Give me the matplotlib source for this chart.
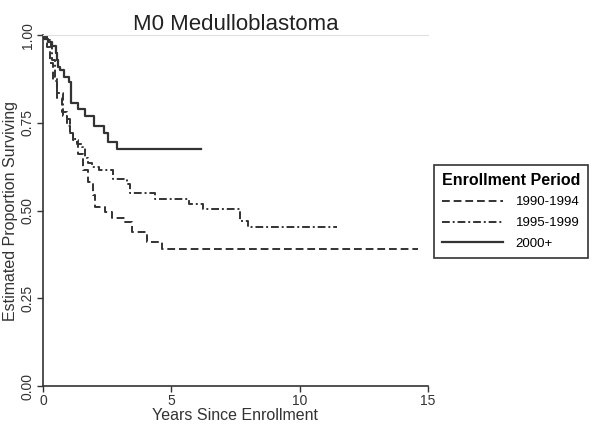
import matplotlib
matplotlib.use('Agg')
import matplotlib.pyplot as plt

plt.rcParams['font.family'] = ['Liberation Sans', 'DejaVu Sans']

# Kaplan-Meier style step curves (years, proportion surviving)
t_9094 = [0, 0.16, 0.27, 0.39, 0.55, 0.74, 0.93, 1.05, 1.17, 1.36, 1.56, 1.75, 1.95,
          2.03, 2.41, 2.7, 3.2, 3.47, 4.05, 4.64, 14.6]
s_9094 = [1.0, 0.966, 0.92, 0.87, 0.82, 0.78, 0.74, 0.72, 0.70, 0.66, 0.615, 0.58, 0.545,
          0.51, 0.495, 0.48, 0.467, 0.44, 0.41, 0.39, 0.39]

t_9599 = [0, 0.12, 0.31, 0.35, 0.47, 0.55, 0.78, 0.93, 1.05, 1.17, 1.32, 1.52, 1.64,
          1.75, 1.9, 2.2, 2.73, 3.27, 3.39, 4.36, 5.69, 6.23, 7.67, 7.99, 11.45]
s_9599 = [1.0, 0.985, 0.966, 0.93, 0.88, 0.835, 0.77, 0.76, 0.72, 0.705, 0.69, 0.68, 0.65,
          0.635, 0.625, 0.615, 0.59, 0.575, 0.55, 0.533, 0.52, 0.504, 0.47, 0.453, 0.453]

t_2000 = [0, 0.05, 0.2, 0.35, 0.5, 0.55, 0.6, 0.65, 0.8, 1.0, 1.1, 1.36, 1.64, 1.99,
          2.37, 2.53, 2.88, 6.15]
s_2000 = [1.0, 0.99, 0.98, 0.97, 0.95, 0.93, 0.91, 0.90, 0.88, 0.866, 0.806, 0.79, 0.77,
          0.74, 0.72, 0.695, 0.675, 0.675]

labels = ['1990-1994', '1995-1999', '2000+']

fig = plt.figure(figsize=(6, 4.28), dpi=100)
ax = fig.add_axes([0.0717, 0.098, 0.6416, 0.82])

c = '#333333'
l1, = ax.step(t_9094, s_9094, where='post', color=c, lw=1.4, dashes=(4, 2))
l2, = ax.step(t_9599, s_9599, where='post', color=c, lw=1.4, dashes=(4, 1.5, 1, 1.5))
l3, = ax.step(t_2000, s_2000, where='post', color=c, lw=1.6)

ax.set_xlim(0, 15)
ax.set_ylim(0, 1)
ax.set_xticks([0, 5, 10, 15])
ax.set_yticks([0, 0.25, 0.5, 0.75, 1.0])
ax.set_yticklabels(['0.00', '0.25', '0.50', '0.75', '1.00'], rotation=90, va='center')
ax.tick_params(labelsize=10, length=4, width=1, color='#333333', pad=2)
for lab in ax.get_xticklabels() + ax.get_yticklabels():
    lab.set_color('#333333')

ax.spines['right'].set_visible(False)
ax.spines['top'].set_color('#e0e0e0')
ax.spines['left'].set_color('#333333')
ax.spines['bottom'].set_color('#333333')
ax.spines['left'].set_linewidth(1.2)
ax.spines['bottom'].set_linewidth(1.2)

ax.set_xlabel('Years Since Enrollment', fontsize=11.5, color='#333333', labelpad=0)
ax.set_ylabel('Estimated Proportion Surviving', fontsize=11.5, color='#333333', labelpad=2)
ax.set_title('M0 Medulloblastoma', fontsize=16, color='#222222', pad=4)

leg = fig.legend([l1, l2, l3], labels, loc='upper left',
                 bbox_to_anchor=(427 / 600, 1 - 158 / 428),
                 title='Enrollment Period', fontsize=9.5, handlelength=4.6,
                 fancybox=False, edgecolor='#333333', framealpha=1,
                 borderpad=0.6, labelspacing=0.65, handletextpad=1.0)
leg.get_title().set_fontweight('bold')
leg.get_title().set_fontsize(11.5)
leg.get_frame().set_linewidth(1.2)

fig.savefig('out.png', dpi=100)
